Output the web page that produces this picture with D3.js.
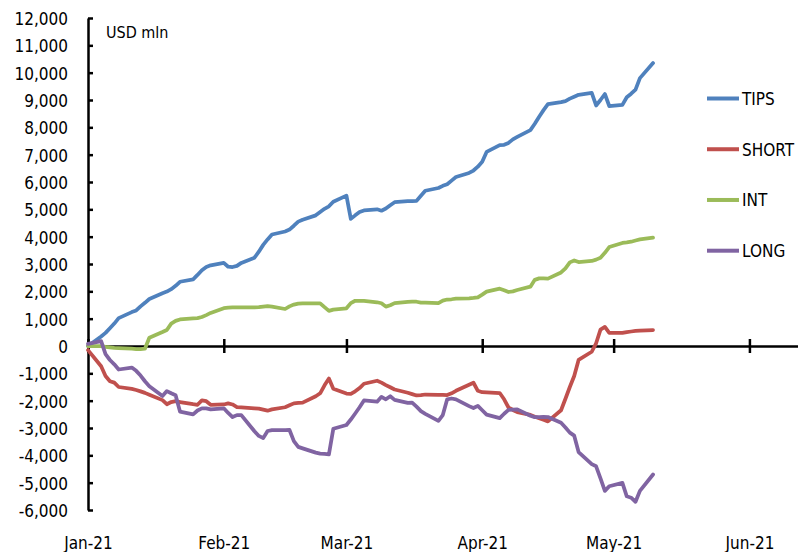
<!DOCTYPE html>
<html><head><meta charset="utf-8">
<script src="https://cdn.jsdelivr.net/npm/d3@7"></script>
<style>
body{margin:0;background:#fff}
svg{display:block}
text{font-family:"DejaVu Sans Condensed","Liberation Sans Narrow",sans-serif;fill:#000}
</style>
</head><body><svg id="chart" width="798" height="552"></svg>
<script>
const dates = [
"2021-01-01","2021-01-04","2021-01-05","2021-01-06","2021-01-07","2021-01-08","2021-01-11","2021-01-12","2021-01-13","2021-01-14","2021-01-15","2021-01-18","2021-01-19","2021-01-20","2021-01-21","2021-01-22","2021-01-25","2021-01-26","2021-01-27","2021-01-28","2021-01-29",
"2021-02-01","2021-02-02","2021-02-03","2021-02-04","2021-02-05","2021-02-08","2021-02-09","2021-02-10","2021-02-11","2021-02-12","2021-02-15","2021-02-16","2021-02-17","2021-02-18","2021-02-19","2021-02-22","2021-02-23","2021-02-24","2021-02-25","2021-02-26",
"2021-03-01","2021-03-02","2021-03-03","2021-03-04","2021-03-05","2021-03-08","2021-03-09","2021-03-10","2021-03-11","2021-03-12","2021-03-15","2021-03-16","2021-03-17","2021-03-18","2021-03-19","2021-03-22","2021-03-23","2021-03-24","2021-03-25","2021-03-26","2021-03-29","2021-03-30","2021-03-31",
"2021-04-01","2021-04-02","2021-04-05","2021-04-06","2021-04-07","2021-04-08","2021-04-09","2021-04-12","2021-04-13","2021-04-14","2021-04-15","2021-04-16","2021-04-19","2021-04-20","2021-04-21","2021-04-22","2021-04-23","2021-04-26","2021-04-27","2021-04-28","2021-04-29","2021-04-30",
"2021-05-03","2021-05-04","2021-05-05","2021-05-06","2021-05-07","2021-05-10"];

const tips = [
0,350,480,650,820,1020,1240,1300,1450,1580,1720,1930,1990,2080,2200,2350,2440,2600,2770,2890,2950,
3040,2900,2890,2930,3040,3230,3450,3700,3900,4080,4190,4260,4400,4550,4620,4780,4900,5020,5110,5280,
5500,4650,4780,4900,4960,5000,4950,5030,5150,5260,5300,5300,5310,5500,5680,5780,5860,5920,6050,6180,6330,6420,6560,
6740,7100,7350,7360,7430,7560,7650,7900,8130,8390,8630,8850,8920,8960,9050,9120,9190,9260,8800,9000,9220,8780,
8820,9100,9230,9380,9800,10350];

const short = [
-150,-740,-1100,-1290,-1340,-1500,-1570,-1610,-1660,-1715,-1780,-1980,-2130,-2050,-2020,-2050,-2130,-2150,-1990,-2020,-2150,
-2140,-2100,-2140,-2232,-2245,-2280,-2290,-2330,-2367,-2320,-2240,-2170,-2098,-2085,-2074,-1840,-1731,-1440,-1190,-1560,
-1740,-1755,-1660,-1540,-1380,-1270,-1340,-1430,-1510,-1590,-1710,-1760,-1810,-1800,-1775,-1785,-1790,-1793,-1730,-1640,-1420,-1345,-1640,
-1690,-1700,-1720,-1950,-2250,-2340,-2420,-2520,-2590,-2640,-2700,-2760,-2350,-1930,-1500,-1100,-510,-210,100,600,700,480,
480,510,530,550,565,585];

const int = [
0,0,-30,-50,-70,-80,-100,-110,-110,-100,300,510,585,820,918,970,1010,1020,1060,1130,1210,
1385,1400,1410,1415,1415,1415,1420,1440,1460,1440,1354,1450,1515,1550,1562,1562,1562,1420,1285,1330,
1379,1570,1655,1655,1648,1600,1565,1440,1490,1570,1615,1620,1620,1590,1590,1570,1660,1700,1710,1730,1745,1760,1780,
1880,1990,2098,2040,1975,2000,2049,2171,2420,2473,2470,2464,2690,2840,3060,3130,3070,3110,3160,3230,3410,3620,
3770,3790,3815,3860,3900,3964];

const long = [
80,180,-300,-512,-670,-860,-790,-910,-1080,-1290,-1470,-1830,-1650,-1730,-1800,-2400,-2500,-2360,-2280,-2280,-2320,
-2280,-2450,-2600,-2530,-2530,-3120,-3290,-3370,-3110,-3080,-3075,-3073,-3480,-3690,-3745,-3900,-3935,-3950,-3964,-3030,
-2891,-2690,-2470,-2240,-1990,-2037,-1860,-1950,-1840,-1970,-2080,-2074,-2220,-2380,-2480,-2740,-2525,-1950,-1920,-1950,-2200,-2270,-2190,
-2350,-2510,-2640,-2480,-2340,-2330,-2317,-2550,-2605,-2600,-2592,-2600,-2810,-2980,-3170,-3280,-3880,-4320,-4400,-4840,-5300,-5130,
-5010,-5500,-5550,-5700,-5300,-4700];

const seriesNames = ["TIPS","SHORT","INT","LONG"];
const seriesValues = [tips, short, int, long];
const seriesColors = ["#4F81BD","#C0504D","#9BBB59","#8064A2"];
const yTicks = [-6000,-5000,-4000,-3000,-2000,-1000,0,1000,2000,3000,4000,5000,6000,7000,8000,9000,10000,11000,12000];
const monthTicks = ["2021-01-01","2021-02-01","2021-03-01","2021-04-01","2021-05-01","2021-06-01"];
const unitLabel = "USD mln";

const parse = d3.timeParse("%Y-%m-%d");
const svg = d3.select("#chart");
const x = d3.scaleTime().domain([parse("2021-01-01"), parse("2021-06-12")]).range([88, 797.6]);
const y = d3.scaleLinear().domain([-6000, 12000]).range([510, 18]);
const fmt = d3.formatLocale({decimal:".", thousands:",", grouping:[3], currency:["$",""], minus:"-"}).format(",");

// Y axis
const gy = svg.append("g").attr("transform","translate(88,0)")
  .call(d3.axisLeft(y).tickValues(yTicks).tickSizeInner(-5).tickSizeOuter(0).tickPadding(20).tickFormat(fmt));
gy.select(".domain").attr("stroke","#000").attr("stroke-width",2.5);
gy.selectAll(".tick line").attr("stroke","#000").attr("stroke-width",2.5);
gy.selectAll(".tick text").attr("font-size",17).attr("font-family",null).attr("dy","0.38em");

// X axis at zero
const gx = svg.append("g").attr("transform",`translate(0,${y(0)})`)
  .call(d3.axisBottom(x).tickValues(monthTicks.map(parse)).tickSizeInner(7).tickSizeOuter(0).tickFormat(d3.timeFormat("%b-%y")));
gx.select(".domain").attr("stroke","#000").attr("stroke-width",2.5);
gx.selectAll(".tick line").attr("stroke","#000").attr("stroke-width",2.5).attr("y1",-7).attr("y2",7);
gx.selectAll(".tick text").attr("font-size",17).attr("font-family",null).attr("y", 549 - y(0)).attr("dy",0);

// unit label
svg.append("text").attr("x",106).attr("y",38).attr("font-size",16).text(unitLabel);

// lines
const line = d3.line().x((d,i)=>x(parse(dates[i]))).y(d=>y(d));
seriesValues.forEach((vals,k)=>{
  svg.append("path").datum(vals).attr("d",line).attr("fill","none")
    .attr("stroke",seriesColors[k]).attr("stroke-width",3.75)
    .attr("stroke-linejoin","round").attr("stroke-linecap","round");
});

// legend
const legY = d3.scalePoint().domain(seriesNames).range([98.5, 250.7]);
const leg = svg.append("g");
seriesNames.forEach((n,k)=>{
  leg.append("line").attr("x1",707).attr("x2",739).attr("y1",legY(n)).attr("y2",legY(n))
    .attr("stroke",seriesColors[k]).attr("stroke-width",4);
  leg.append("text").attr("x",742).attr("y",legY(n)).attr("dy","0.38em").attr("font-size",17).text(n);
});
</script></body></html>
